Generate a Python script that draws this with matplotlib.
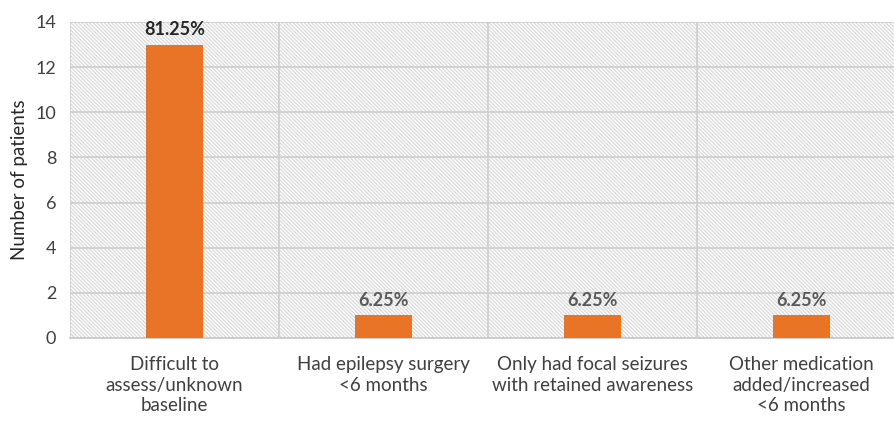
import matplotlib
matplotlib.use("Agg")
import matplotlib.pyplot as plt
from matplotlib.ticker import FixedLocator

plt.rcParams['font.family'] = ['Lato', 'DejaVu Sans']
plt.rcParams['hatch.color'] = '#dcdcdc'
plt.rcParams['hatch.linewidth'] = 1.0

categories = ['Difficult to\nassess/unknown\nbaseline',
              'Had epilepsy surgery\n<6 months',
              'Only had focal seizures\nwith retained awareness',
              'Other medication\nadded/increased\n<6 months']
patients = [13, 1, 1, 1]
percent_labels = ['81.25%', '6.25%', '6.25%', '6.25%']

fig = plt.figure(figsize=(8.94, 4.21), dpi=100)
ax = fig.add_axes([70 / 894, 83 / 421, 836 / 894, 316 / 421])

# dense diagonal hatching for the plot background
ax.patch.set_hatch('\\' * 9)
ax.patch.set_edgecolor('#dcdcdc')
ax.patch.set_linewidth(0)

x = range(len(categories))
bars = ax.bar(x, patients, width=0.27, color='#e97426', zorder=3)

for i, (b, lab) in enumerate(zip(bars, percent_labels)):
    ax.text(b.get_x() + b.get_width() / 2, b.get_height() + 0.3, lab,
            ha='center', va='bottom', fontsize=13, fontweight='bold',
            color='#262626' if i == 0 else '#595959', zorder=4)

ax.set_xlim(-0.5, 3.5)
ax.set_ylim(0, 14)
ax.set_yticks(range(0, 15, 2))
ax.set_xticks(list(x))
ax.set_xticklabels(categories, fontsize=13.5, color='#262626', linespacing=1.25)
ax.tick_params(axis='both', length=0, colors='#404040')
ax.tick_params(axis='y', labelsize=13, pad=10)
ax.tick_params(axis='x', pad=13)
ax.set_ylabel('Number of patients', fontsize=13.5, color='#262626', labelpad=5)

ax.xaxis.set_minor_locator(FixedLocator([-0.5, 0.5, 1.5, 2.5]))
ax.grid(axis='y', color='#d0d0d0', linewidth=1.3, zorder=1)
ax.grid(axis='x', which='minor', color='#d0d0d0', linewidth=1.3, zorder=1)
ax.tick_params(axis='x', which='minor', length=0)
ax.set_axisbelow(True)

for s in ['top', 'right', 'left']:
    ax.spines[s].set_visible(False)
ax.spines['bottom'].set_color('#cccccc')
ax.spines['bottom'].set_linewidth(1.3)

fig.savefig('out.png', dpi=100)
